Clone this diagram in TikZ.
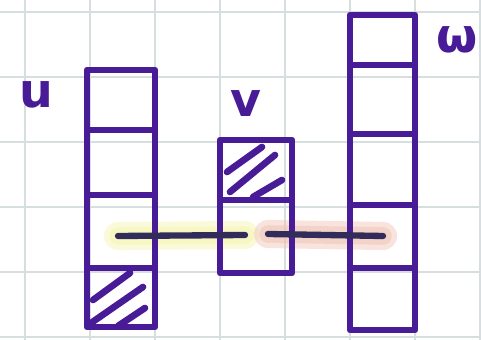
\documentclass[tikz,border=0pt]{standalone}
\usepackage{fontspec}
\setmainfont{DejaVu Sans}
\definecolor{ink}{RGB}{72,28,150}
\definecolor{dark}{RGB}{50,44,90}
\definecolor{gridc}{RGB}{215,222,224}
\definecolor{hlyel}{RGB}{246,246,175}
\definecolor{hlred}{RGB}{240,195,180}
\tikzset{
  col/.style={draw=ink, line width=3.8pt, line join=round, inner sep=0pt},
  divider/.style={draw=ink, line width=3.8pt, line cap=butt},
  hatch/.style={draw=ink, line width=3.8pt, line cap=round},
  link/.style={draw=dark, line width=3.6pt, line cap=round},
  glow/.style={draw=#1, line width=16pt, line cap=round, opacity=0.45},
  glowin/.style={draw=#1, line width=10pt, line cap=round, opacity=0.5},
  lbl/.style={text=ink, font=\fontsize{27}{27}\selectfont\bfseries}
}
\begin{document}
\begin{tikzpicture}[x=0.02cm,y=-0.02cm]
\useasboundingbox (0,0) rectangle (481,340);
\fill[white] (0,0) rectangle (481,340);
% grid
\foreach \gx in {25,90,155,220,285,350,415,480} \draw[gridc, line width=0.6pt] (\gx,0) -- (\gx,340);
\foreach \gy in {12,77,142,207,272,337} \draw[gridc, line width=0.6pt] (0,\gy) -- (481,\gy);
% highlights
\coordinate (l1) at (118,236);
\coordinate (l2) at (245,235);
\coordinate (r1) at (268,234);
\coordinate (r2) at (383,236);
\draw[glow=hlyel] (l1) -- (l2);
\draw[glowin=hlyel] (l1) -- (l2);
\draw[glow=hlred] (r1) -- (r2);
\draw[glowin=hlred] (r1) -- (r2);
% columns
\node[col, minimum width=68*0.02cm, minimum height=257*0.02cm] (u) at (121,198.5) {};
\node[col, minimum width=72*0.02cm, minimum height=133*0.02cm] (v) at (256,206.5) {};
\node[col, minimum width=65*0.02cm, minimum height=315*0.02cm] (w) at (382.5,172.5) {};
% dividers u
\draw[divider] (u.west |- 0,130) -- (u.east |- 0,130);
\draw[divider] (u.west |- 0,195) -- (u.east |- 0,195);
\draw[divider] (u.west |- 0,268) -- (u.east |- 0,268);
% divider v
\draw[divider] (v.west |- 0,200) -- (v.east |- 0,200);
% dividers w
\draw[divider] (w.west |- 0,65) -- (w.east |- 0,65);
\draw[divider] (w.west |- 0,134) -- (w.east |- 0,134);
\draw[divider] (w.west |- 0,205) -- (w.east |- 0,205);
\draw[divider] (w.west |- 0,268) -- (w.east |- 0,268);
% hatching
\draw[hatch] (93,300) -- (130,273);
\draw[hatch] (91,323) -- (143,287);
\draw[hatch] (118,326) -- (145,308);
\draw[hatch] (227,172) -- (262,147);
\draw[hatch] (230,192) -- (275,155);
\draw[hatch] (253,197) -- (282,180);
% links
\draw[link] (l1) -- (l2);
\draw[link] (r1) -- (r2);
% labels
\node[lbl] (lu) at (36,95) {u};
\node[lbl] (lv) at (246,104) {v};
\node[lbl] (lw) at (457,40) {ω};
\end{tikzpicture}
\end{document}
